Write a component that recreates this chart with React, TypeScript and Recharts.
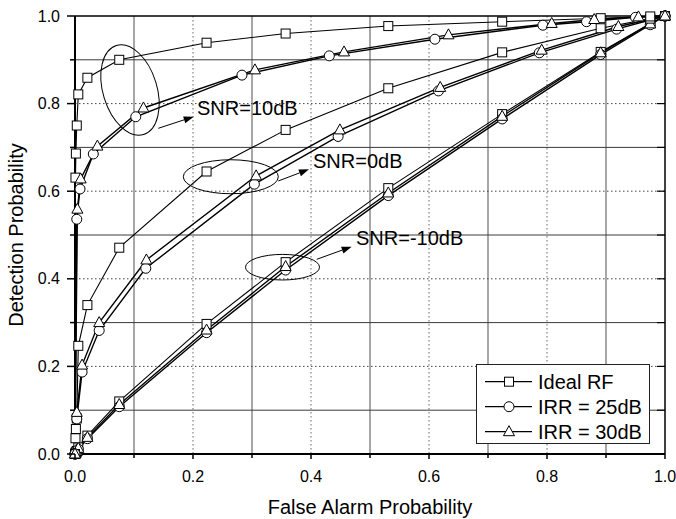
import React from "react";
import {
  LineChart,
  Line,
  XAxis,
  YAxis,
  CartesianGrid,
  ReferenceLine,
  ReferenceDot,
  Legend,
} from "recharts";

// axis ticks (every 0.1, labels on every 0.2)
const axisTicks = [0, 0.1, 0.2, 0.3, 0.4, 0.5, 0.6, 0.7, 0.8, 0.9, 1.0];
const solidGrid = [0.1, 0.3, 0.5, 0.7, 0.9];
const dottedGrid = [0.2, 0.4, 0.6, 0.8];

// Ideal RF: same false alarm points for all SNRs
const idealPfa = [0, 0.0008, 0.0015, 0.003, 0.0056, 0.021, 0.075, 0.223, 0.357, 0.531, 0.724, 0.891, 0.975, 1];
const idealPd10 = [0, 0.631, 0.686, 0.75, 0.821, 0.859, 0.9, 0.939, 0.96, 0.977, 0.987, 0.995, 0.999, 1];
const idealPd0 = [0, 0.036, 0.057, 0.081, 0.247, 0.34, 0.471, 0.645, 0.74, 0.835, 0.917, 0.972, 0.994, 1];
const idealPdM10 = [0, 0.002, 0.004, 0.007, 0.015, 0.042, 0.12, 0.297, 0.438, 0.607, 0.776, 0.918, 0.983, 1];

// IRR = 25dB
const irr25Pfa10 = [0, 0.003, 0.0085, 0.031, 0.103, 0.283, 0.431, 0.61, 0.793, 0.867, 0.95, 1];
const irr25Pd10 = [0, 0.536, 0.605, 0.685, 0.77, 0.865, 0.909, 0.947, 0.979, 0.987, 0.997, 1];
const irr25Pfa0 = [0, 0.003, 0.012, 0.041, 0.12, 0.304, 0.446, 0.616, 0.787, 0.918, 1];
const irr25Pd0 = [0, 0.08, 0.187, 0.282, 0.424, 0.616, 0.725, 0.829, 0.916, 0.97, 1];
const irr25PdM10 = [0, 0.001, 0.003, 0.005, 0.011, 0.035, 0.108, 0.277, 0.42, 0.59, 0.765, 0.912, 0.98, 1];

// IRR = 30dB
const irr30Pfa10 = [0, 0.004, 0.0096, 0.038, 0.116, 0.305, 0.456, 0.633, 0.808, 0.88, 0.955, 1];
const irr30Pd10 = [0, 0.559, 0.628, 0.703, 0.79, 0.877, 0.918, 0.957, 0.983, 0.992, 0.998, 1];
const irr30Pfa0 = [0, 0.003, 0.012, 0.041, 0.121, 0.307, 0.449, 0.619, 0.791, 0.921, 1];
const irr30Pd0 = [0, 0.095, 0.203, 0.3, 0.443, 0.635, 0.74, 0.837, 0.922, 0.976, 1];
const irr30PdM10 = [0, 0.001, 0.003, 0.006, 0.013, 0.038, 0.113, 0.283, 0.428, 0.596, 0.771, 0.916, 0.982, 1];

const legendNames = ["Ideal RF", "IRR = 25dB", "IRR = 30dB"];
const legendMarkers = ["square", "circle", "triangle"];

const annotations = [
  { label: "SNR=10dB", ex: 0.0932, ey: 0.831, rx: 27, ry: 46.5, rot: -17, from: [0.1412, 0.7436], to: [0.2012, 0.7701], tx: 0.2068, ty: 0.774 },
  { label: "SNR=0dB", ex: 0.2641, ey: 0.633, rx: 47.5, ry: 17, rot: 0, from: [0.3446, 0.6233], to: [0.3966, 0.65], tx: 0.4034, ty: 0.653 },
  { label: "SNR=-10dB", ex: 0.3517, ey: 0.4265, rx: 37, ry: 12.8, rot: 0, from: [0.4097, 0.4445], to: [0.4689, 0.4733], tx: 0.4763, ty: 0.477 },
];

const zip = (xs: number[], ys: number[]) => xs.map((x, i) => ({ pfa: x, pd: ys[i] }));

const series = [
  { id: "idealM10", data: zip(idealPfa, idealPdM10), marker: "square", w: 1.1 },
  { id: "irr25M10", data: zip(idealPfa, irr25PdM10), marker: "circle", w: 1.4 },
  { id: "irr30M10", data: zip(idealPfa, irr30PdM10), marker: "triangle", w: 1.4 },
  { id: "ideal0", data: zip(idealPfa, idealPd0), marker: "square", w: 1.1 },
  { id: "irr25_0", data: zip(irr25Pfa0, irr25Pd0), marker: "circle", w: 1.4 },
  { id: "irr30_0", data: zip(irr30Pfa0, irr30Pd0), marker: "triangle", w: 1.4 },
  { id: "ideal10", data: zip(idealPfa, idealPd10), marker: "square", w: 1.1 },
  { id: "irr25_10", data: zip(irr25Pfa10, irr25Pd10), marker: "circle", w: 1.4 },
  { id: "irr30_10", data: zip(irr30Pfa10, irr30Pd10), marker: "triangle", w: 1.4 },
];

const W = 676;
const H = 519;
const PLOT_LEFT = 75;
const PLOT_TOP = 16;
const PLOT_RIGHT = 665;
const PLOT_BOTTOM = 454;
const FONT = '"Liberation Sans", Arial, Helvetica, sans-serif';

const marker = (kind: string, cx: number, cy: number, key?: string) => {
  if (kind === "square") {
    return <rect key={key} x={cx - 4.5} y={cy - 4.5} width={9} height={9} fill="#fff" stroke="#000" strokeWidth={1} />;
  }
  if (kind === "circle") {
    return <circle key={key} cx={cx} cy={cy} r={5} fill="#fff" stroke="#000" strokeWidth={1} />;
  }
  return (
    <polygon
      key={key}
      points={`${cx},${cy - 6} ${cx - 5.5},${cy + 4} ${cx + 5.5},${cy + 4}`}
      fill="#fff"
      stroke="#000"
      strokeWidth={1}
    />
  );
};

const makeDot = (kind: string) => (props: any) => {
  const { cx, cy, index } = props;
  if (cx == null || cy == null) return <g key={`e-${index}`} />;
  return marker(kind, cx, cy, `${kind}-${index}`);
};

const XTick = (props: any) => {
  const { x, payload } = props;
  const v = payload.value as number;
  const major = Math.round(v * 10) % 2 === 0;
  return (
    <g>
      <line x1={x} x2={x} y1={PLOT_BOTTOM} y2={PLOT_BOTTOM + (major ? 5 : 4)} stroke="#000" strokeWidth={1.5} />
      {major && (
        <text x={x} y={PLOT_BOTTOM + 28} textAnchor="middle" fontSize={16} fontFamily={FONT} fill="#000">
          {v.toFixed(1)}
        </text>
      )}
    </g>
  );
};

const YTick = (props: any) => {
  const { y, payload } = props;
  const v = payload.value as number;
  const major = Math.round(v * 10) % 2 === 0;
  return (
    <g>
      <line x1={PLOT_LEFT - (major ? 8 : 5)} x2={PLOT_LEFT} y1={y} y2={y} stroke="#000" strokeWidth={1.5} />
      {v > 0 && v < 1 && <line x1={PLOT_RIGHT - 8} x2={PLOT_RIGHT} y1={y} y2={y} stroke="#000" strokeWidth={1.2} />}
      {major && (
        <text x={60} y={y + 5.5} textAnchor="end" fontSize={16} fontFamily={FONT} fill="#000">
          {v.toFixed(1)}
        </text>
      )}
    </g>
  );
};

const Arrow = (props: any) => {
  const { x1, y1, x2, y2 } = props;
  const a = Math.atan2(y2 - y1, x2 - x1);
  const L = 10;
  const hw = 3.5;
  const bx = x2 - L * Math.cos(a);
  const by = y2 - L * Math.sin(a);
  const pts = `${x2},${y2} ${bx - hw * Math.sin(a)},${by + hw * Math.cos(a)} ${bx + hw * Math.sin(a)},${by - hw * Math.cos(a)}`;
  return (
    <g>
      <line x1={x1} y1={y1} x2={bx} y2={by} stroke="#000" strokeWidth={1} />
      <polygon points={pts} fill="#000" />
    </g>
  );
};

const LegendBox = () => (
  <svg width={174} height={80} style={{ display: "block" }}>
    <rect x={0.5} y={0.5} width={173} height={79} fill="#fff" stroke="#222" strokeWidth={1} />
    {legendNames.map((name, i) => {
      const cy = 17.7 + i * 25;
      return (
        <g key={name}>
          <line x1={9} x2={56} y1={cy} y2={cy} stroke="#000" strokeWidth={1.3} />
          {marker(legendMarkers[i], 33, cy)}
          <text x={62} y={cy + 7} fontSize={20} fontFamily={FONT} fill="#000">
            {name}
          </text>
        </g>
      );
    })}
  </svg>
);

export default function App() {
  return (
    <div style={{ position: "absolute", left: 0, top: 0, width: W, height: H, background: "#fff" }}>
      <LineChart
        width={W}
        height={H}
        margin={{ top: PLOT_TOP, right: W - PLOT_RIGHT, left: 0, bottom: H - PLOT_BOTTOM - 40 }}
      >
        <CartesianGrid horizontal={false} verticalValues={solidGrid} stroke="#8a8a8a" strokeWidth={1.5} />
        <CartesianGrid vertical={false} horizontalValues={solidGrid} stroke="#3a3a3a" strokeWidth={1} />
        <CartesianGrid horizontal={false} verticalValues={dottedGrid} stroke="#666" strokeDasharray="1.5 2.5" strokeWidth={1} />
        <CartesianGrid vertical={false} horizontalValues={dottedGrid} stroke="#444" strokeDasharray="1.5 2.5" strokeWidth={1} />
        <XAxis
          type="number"
          dataKey="pfa"
          domain={[0, 1]}
          ticks={axisTicks}
          interval={0}
          height={40}
          axisLine={{ stroke: "#000", strokeWidth: 2 }}
          tickLine={false}
          tick={<XTick />}
          label={{
            content: (p: any) => (
              <text x={PLOT_LEFT + (PLOT_RIGHT - PLOT_LEFT) / 2} y={514} textAnchor="middle" fontSize={20} fontFamily={FONT} fill="#000">
                False Alarm Probability
              </text>
            ),
          }}
        />
        <YAxis
          type="number"
          dataKey="pd"
          domain={[0, 1]}
          ticks={axisTicks}
          interval={0}
          width={PLOT_LEFT}
          axisLine={{ stroke: "#000", strokeWidth: 2 }}
          tickLine={false}
          tick={<YTick />}
          label={{
            content: (p: any) => {
              const cy = PLOT_TOP + (PLOT_BOTTOM - PLOT_TOP) / 2;
              return (
                <text x={23} y={cy} transform={`rotate(-90, 23, ${cy})`} textAnchor="middle" fontSize={20} fontFamily={FONT} fill="#000">
                  Detection Probability
                </text>
              );
            },
          }}
        />
        <ReferenceLine x={1} stroke="#000" strokeWidth={1.5} />
        <ReferenceLine y={1} stroke="#000" strokeWidth={1.5} />
        {series.map((s) => (
          <Line
            key={s.id}
            data={s.data}
            dataKey="pd"
            type="linear"
            stroke="#000"
            strokeWidth={s.w}
            dot={makeDot(s.marker)}
            activeDot={false}
            isAnimationActive={false}
            legendType="none"
          />
        ))}
        {annotations.map((a) => (
          <ReferenceDot
            key={`e-${a.label}`}
            x={a.ex}
            y={a.ey}
            r={1}
            shape={(p: any) => (
              <ellipse
                cx={p.cx}
                cy={p.cy}
                rx={a.rx}
                ry={a.ry}
                transform={`rotate(${a.rot}, ${p.cx}, ${p.cy})`}
                fill="none"
                stroke="#000"
                strokeWidth={1}
              />
            )}
          />
        ))}
        {annotations.map((a) => (
          <ReferenceLine
            key={`a-${a.label}`}
            segment={[
              { x: a.from[0], y: a.from[1] },
              { x: a.to[0], y: a.to[1] },
            ]}
            shape={(p: any) => <Arrow {...p} />}
          />
        ))}
        {annotations.map((a) => (
          <ReferenceDot
            key={`t-${a.label}`}
            x={a.tx}
            y={a.ty}
            r={1}
            shape={(p: any) => (
              <text x={p.cx} y={p.cy} fontSize={20} fontFamily={FONT} fill="#000">
                {a.label}
              </text>
            )}
          />
        ))}
        <Legend
          layout="vertical"
          align="center"
          verticalAlign="middle"
          wrapperStyle={{ left: 476, top: 364, width: 174, height: 80 }}
          content={() => <LegendBox />}
        />
      </LineChart>
    </div>
  );
}
